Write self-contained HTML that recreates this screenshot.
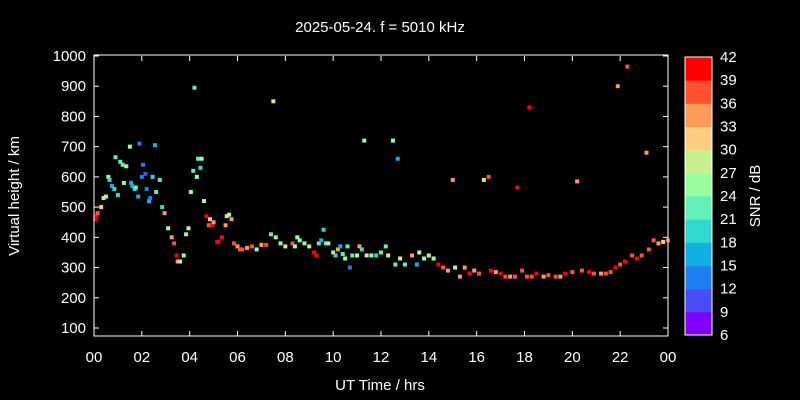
<!DOCTYPE html>
<html><head><meta charset="utf-8"><style>
html,body{margin:0;padding:0;background:#000;}
svg{display:block;font-family:"Liberation Sans",sans-serif;}
</style></head><body>
<svg id="chart" width="800" height="400">
<rect width="800" height="400" fill="#000"/>
<text x="380" y="32" fill="#fff" font-size="15" text-anchor="middle">2025-05-24. f = 5010 kHz</text>
<text x="380" y="390" fill="#fff" font-size="15" text-anchor="middle">UT Time / hrs</text>
<text transform="translate(19,196) rotate(-90)" fill="#fff" font-size="15" text-anchor="middle">Virtual height / km</text>
<text transform="translate(760,196) rotate(-90)" fill="#fff" font-size="15" text-anchor="middle">SNR / dB</text>
<g id="marks"></g>
<g id="axes"></g>
</svg>
<script>
const hours=[0.05,0.1,0.15,0.3,0.4,0.5,0.6,0.65,0.75,0.85,0.9,1.0,1.1,1.2,1.25,1.35,1.5,1.55,1.6,1.7,1.75,1.85,1.9,2.0,2.05,2.15,2.2,2.3,2.35,2.45,2.55,2.6,2.75,2.85,2.95,3.1,3.25,3.35,3.45,3.5,3.6,3.75,3.85,3.95,4.05,4.15,4.2,4.3,4.35,4.45,4.5,4.6,4.7,4.8,4.85,4.95,5.0,5.15,5.2,5.35,5.5,5.55,5.65,5.75,5.85,6.0,6.1,6.2,6.4,6.6,6.8,7.0,7.2,7.4,7.5,7.6,7.8,8.0,8.3,8.4,8.5,8.6,8.8,9.0,9.2,9.3,9.4,9.5,9.6,9.7,9.8,10.0,10.1,10.2,10.3,10.4,10.5,10.6,10.7,10.8,11.0,11.1,11.2,11.3,11.4,11.6,11.8,12.0,12.2,12.3,12.5,12.6,12.7,12.8,13.0,13.3,13.5,13.6,13.8,14.0,14.2,14.4,14.6,14.8,15.0,15.1,15.3,15.5,15.7,15.9,16.1,16.3,16.5,16.6,16.8,17.0,17.2,17.4,17.6,17.7,17.9,18.1,18.2,18.3,18.5,18.8,19.0,19.3,19.5,19.7,20.0,20.2,20.4,20.7,20.9,21.2,21.4,21.6,21.8,21.9,22.0,22.2,22.3,22.5,22.7,22.9,23.1,23.2,23.4,23.6,23.8,24.0];
const heights=[460,470,480,500,530,535,600,590,570,560,665,540,650,640,580,635,700,580,570,560,565,535,710,600,640,610,560,520,530,600,705,550,590,500,480,430,400,380,340,320,320,340,410,430,550,620,895,600,660,630,660,520,470,440,460,440,450,385,385,400,440,470,475,460,380,370,360,360,365,370,360,375,375,410,850,400,380,370,380,370,400,390,380,370,350,340,380,390,425,380,380,350,340,360,370,345,330,370,300,340,340,370,360,720,340,340,340,350,370,340,720,310,660,330,310,340,310,350,330,340,330,310,300,290,590,300,270,300,280,290,280,590,600,290,285,280,270,270,270,565,290,270,830,270,280,270,275,270,270,280,285,585,290,285,280,280,280,285,300,900,310,320,965,340,330,340,680,360,390,380,385,390];
const snr=[39,42,36,30,27,24,24,18,15,18,21,18,21,21,24,24,24,15,15,18,21,15,12,12,12,9,12,15,12,18,15,21,21,18,33,27,33,36,42,33,27,24,24,27,24,21,21,24,21,18,24,27,39,36,30,39,33,42,39,42,33,27,27,33,36,33,36,36,33,36,24,33,36,21,27,24,24,27,36,24,24,24,24,27,39,42,21,15,18,21,24,24,18,33,15,21,24,21,12,21,27,33,18,24,27,24,18,21,21,27,24,21,15,27,21,33,15,27,24,27,24,39,36,33,33,27,33,33,42,33,36,27,36,39,33,39,36,33,36,42,36,36,39,36,39,33,36,36,33,39,36,33,36,39,36,33,36,36,39,33,36,39,36,36,39,36,33,36,36,33,30,36];
const yTicks=[100,200,300,400,500,600,700,800,900,1000];
const xTicks=[0,2,4,6,8,10,12,14,16,18,20,22,24];
const xTickLabels=["00","02","04","06","08","10","12","14","16","18","20","22","00"];
const cbTicks=[6,9,12,15,18,21,24,27,30,33,36,39,42];
const palette=["#8000ff","#4a4cfa","#1e7ff0","#10b0e6","#30d8d0","#60f0b8","#98fca0","#c8f090","#ffcc80","#ff9a58","#ff5030","#ff0000"];
const NS="http://www.w3.org/2000/svg";
const L=94,R=668,T=56,B=336;
const xS=h=>L+(h/24)*(R-L);
const yS=k=>T+(1000-k)*(328-56)/900;
const col=s=>palette[Math.max(0,Math.min(11,Math.floor((s-6)/3)))];
function mk(t,a,p){const e=document.createElementNS(NS,t);for(const k in a)e.setAttribute(k,a[k]);(p||document.getElementById('axes')).appendChild(e);return e;}
const marks=document.getElementById('marks');
hours.forEach((h,i)=>{const r=mk('rect',{x:xS(h)-2,y:yS(heights[i])-2,width:4,height:4,fill:col(snr[i])},marks);

});
const fr=mk('rect',{x:L,y:T-1,width:R-L,height:B-T+1,fill:'none',stroke:'#fff','stroke-width':1});


yTicks.forEach(v=>{const y=yS(v);
mk('line',{x1:L,x2:L+5,y1:y,y2:y,stroke:'#fff'});mk('line',{x1:R-5,x2:R,y1:y,y2:y,stroke:'#fff'});
const t=mk('text',{x:L-8,y:y+5,fill:'#fff','font-size':15,'text-anchor':'end'});t.textContent=v;

});
xTicks.forEach((v,i)=>{const x=xS(v);
mk('line',{x1:x,x2:x,y1:B,y2:B-5,stroke:'#fff'});mk('line',{x1:x,x2:x,y1:T,y2:T+5,stroke:'#fff'});
const t=mk('text',{x:x,y:362,fill:'#fff','font-size':15,'text-anchor':'middle'});t.textContent=xTickLabels[i];

});
const cT=57,cB=335,cH=(cB-cT)/12;
palette.forEach((c,i)=>{const r=mk('rect',{x:685,y:cB-(i+1)*cH,width:27,height:cH+0.5,fill:c});

});
mk('rect',{x:685,y:cT,width:27,height:cB-cT,fill:'none',stroke:'#fff'});
cbTicks.forEach((v,i)=>{const y=cB-i*cH;
const t=mk('text',{x:720,y:y+5,fill:'#fff','font-size':15});t.textContent=v;

});
</script>
</body></html>
